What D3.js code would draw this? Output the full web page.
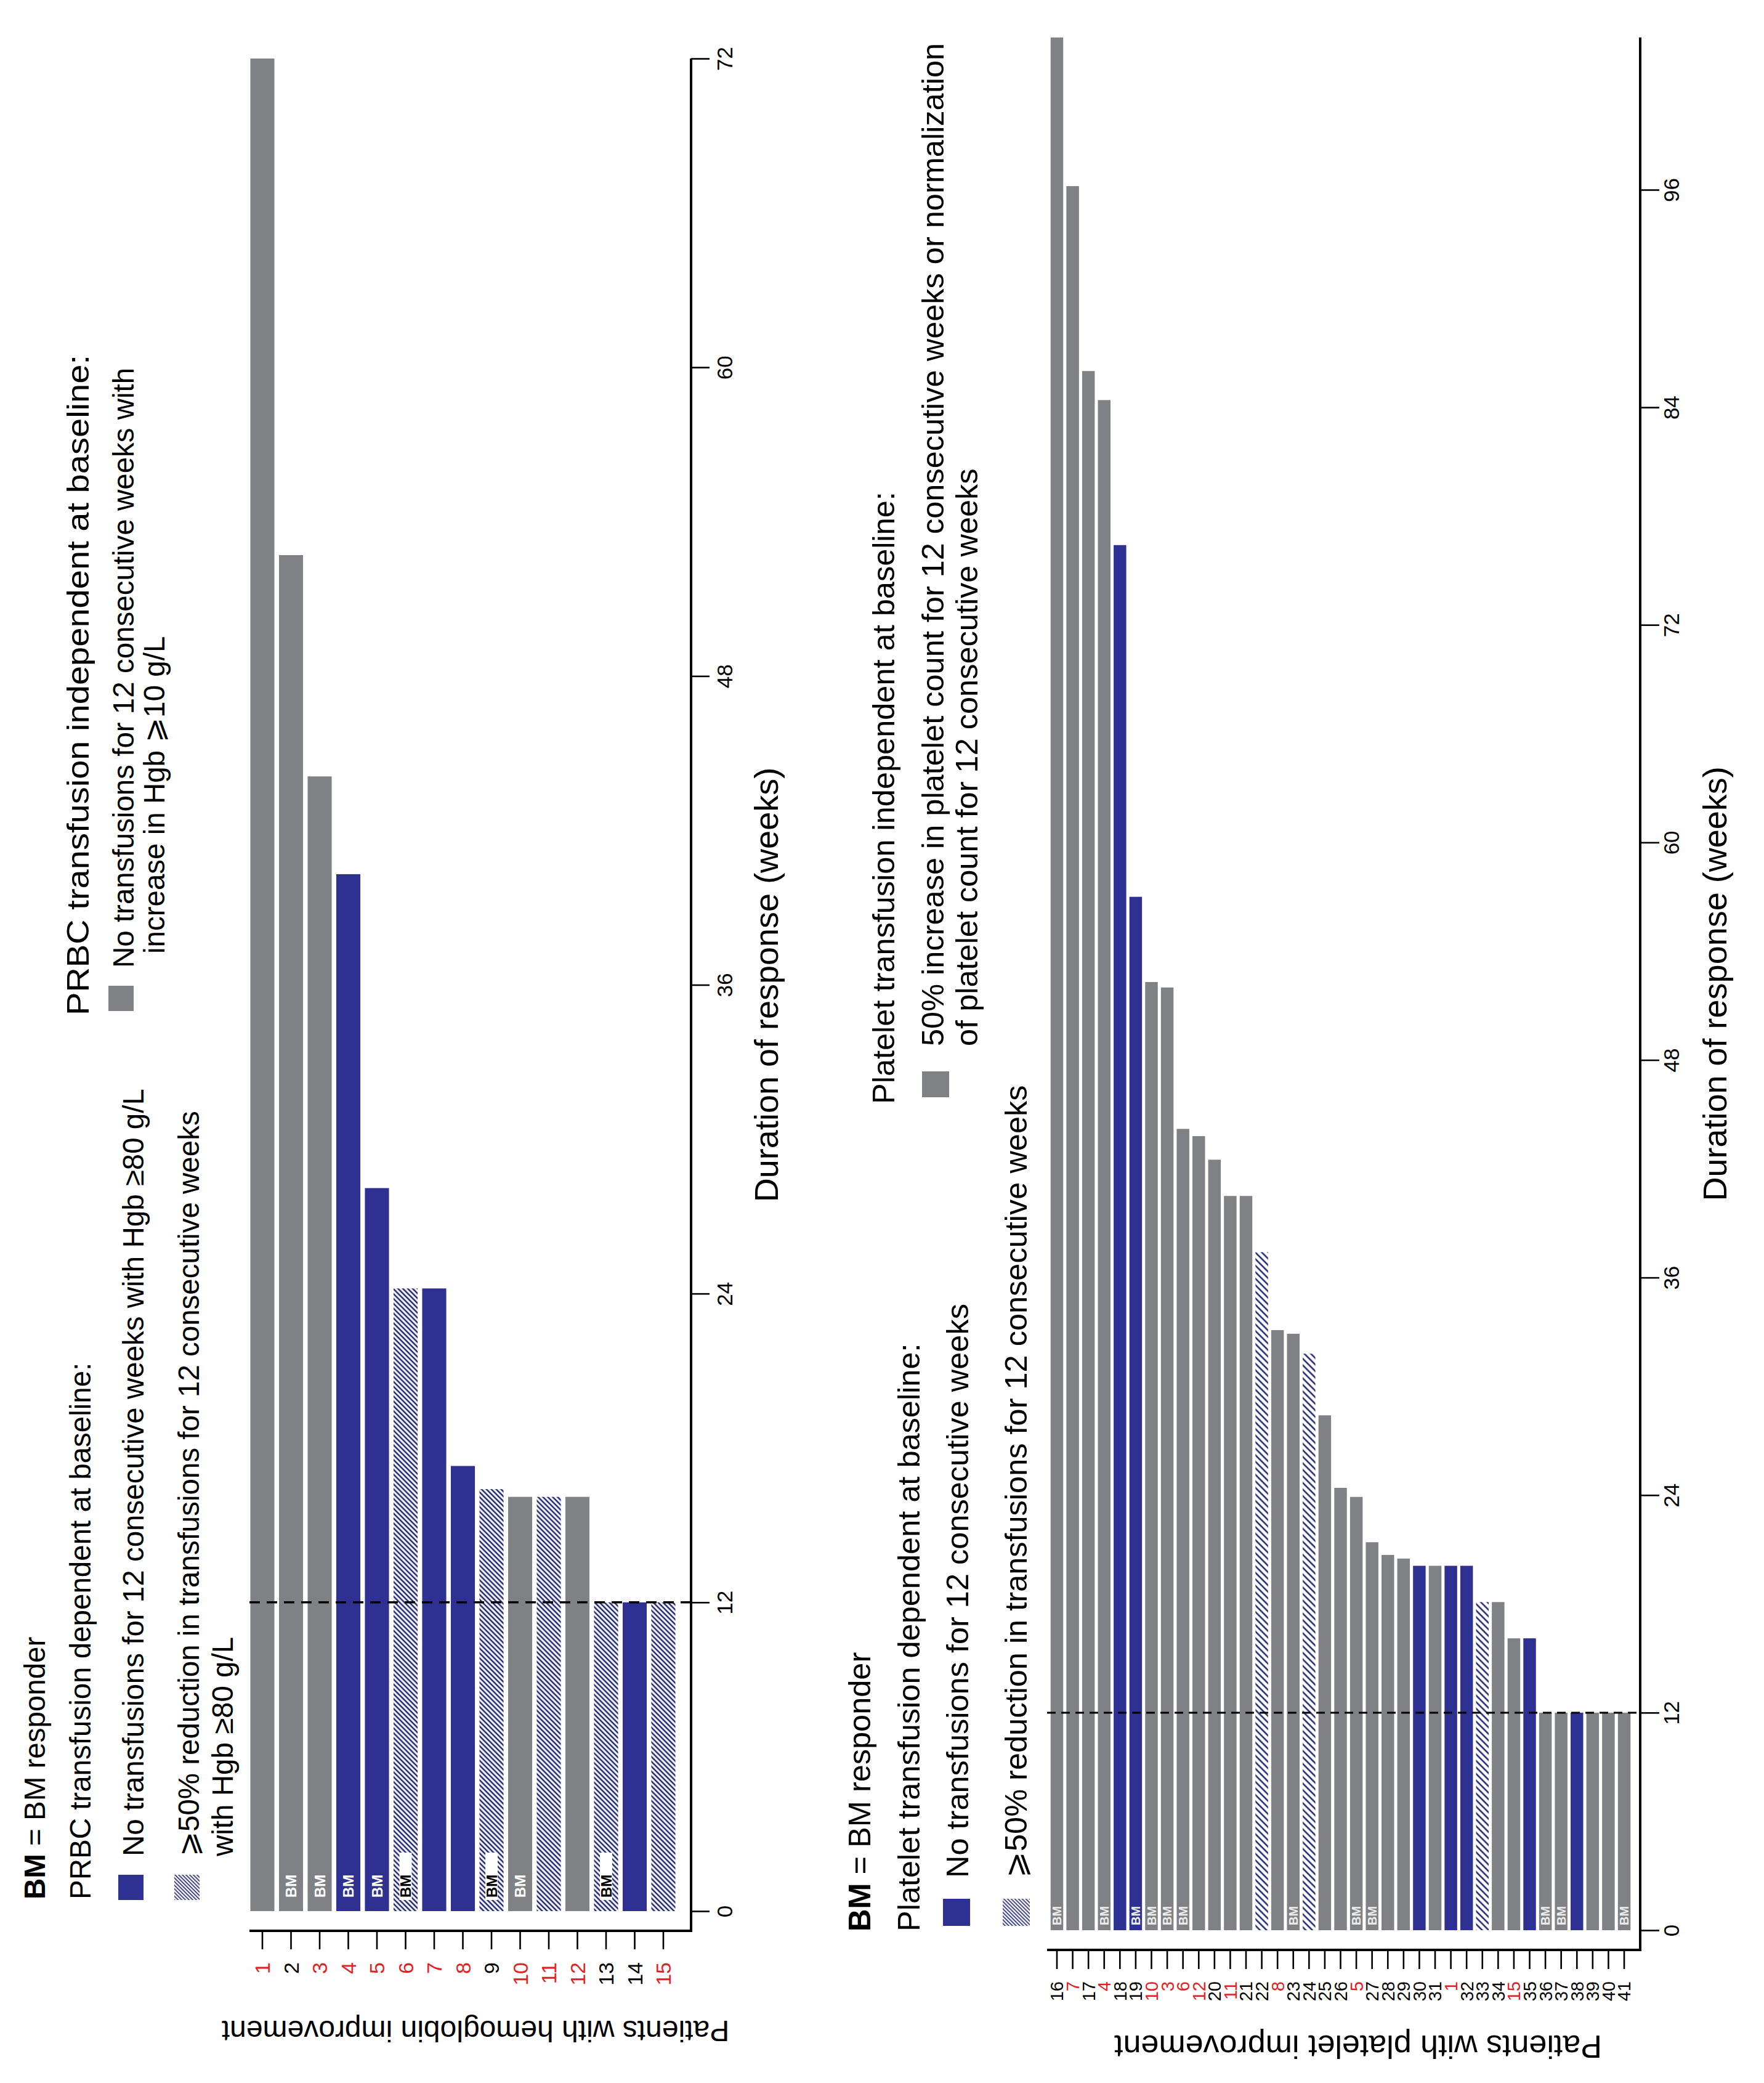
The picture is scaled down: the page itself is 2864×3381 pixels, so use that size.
<!DOCTYPE html>
<html>
<head>
<meta charset="utf-8">
<script src="https://cdn.jsdelivr.net/npm/d3@7"></script>
<style>
  body { margin: 0; background: #fff; }
  svg { display: block; }
  text { font-family: "Liberation Sans", Arial, Helvetica, sans-serif; }
</style>
</head>
<body>
<svg id="chart"></svg>
<script>
// ---- data: hemoglobin panel (top) ----
const hgbPatients = ["1", "2", "3", "4", "5", "6", "7", "8", "9", "10", "11", "12", "13", "14", "15"];
const hgbWeeks = [72, 52.7, 44.1, 40.3, 28.1, 24.2, 24.2, 17.3, 16.4, 16.1, 16.1, 16.1, 12, 12, 12];
// nt = no transfusions (blue), red = >=50% reduction (hatched), ind = transfusion independent (gray)
const hgbGroup = ["ind", "ind", "ind", "nt", "nt", "red", "nt", "nt", "red", "ind", "red", "ind", "red", "nt", "red"];
const hgbBM = ["2", "3", "4", "5", "6", "9", "10", "13"];
const hgbTicks = [0, 12, 24, 36, 48, 60, 72];

// ---- data: platelet panel (bottom) ----
const plPatients = ["16", "7", "17", "4", "18", "19", "10", "3", "6", "12", "20", "11", "21", "22", "8", "23", "24", "25", "26", "5",
  "27", "28", "29", "30", "31", "1", "32", "33", "34", "15", "35", "36", "37", "38", "39", "40", "41"];
const plWeeks = [104.4, 96.2, 86.0, 84.4, 76.4, 57.0, 52.3, 52.0, 44.2, 43.8, 42.5, 40.5, 40.5, 37.4, 33.1, 32.9, 31.8, 28.4, 24.4, 23.9,
  21.4, 20.7, 20.5, 20.1, 20.1, 20.1, 20.1, 18.1, 18.1, 16.1, 16.1, 12, 12, 12, 12, 12, 12];
const plGroup = ["ind", "ind", "ind", "ind", "nt", "nt", "ind", "ind", "ind", "ind", "ind", "ind", "ind", "red", "ind", "ind", "red", "ind", "ind", "ind",
  "ind", "ind", "ind", "nt", "ind", "nt", "nt", "red", "ind", "ind", "nt", "ind", "ind", "nt", "ind", "ind", "ind"];
const plBM = ["16", "4", "19", "10", "3", "6", "23", "5", "27", "36", "37", "41"];
const plTicks = [0, 12, 24, 36, 48, 60, 72, 84, 96];

// patients that responded in both panels get red labels
const bothPanels = ["1", "3", "4", "5", "6", "7", "8", "10", "11", "12", "15"];

const GRAY = "#808184", BLUE = "#2e3192", NAVY = "#23276f", RED = "#e31e24";
const W = 2864, H = 3381;

const svg = d3.select("#chart")
    .attr("width", W)
    .attr("height", H)
    .attr("viewBox", [0, 0, W, H]);

svg.append("rect").attr("width", W).attr("height", H).attr("fill", "#fff");

const defs = svg.append("defs");
function hatch(id, size, sw) {
    const p = defs.append("pattern")
        .attr("id", id)
        .attr("patternUnits", "userSpaceOnUse")
        .attr("width", size)
        .attr("height", size)
        .attr("patternTransform", "rotate(-45)");
    p.append("rect").attr("width", size).attr("height", size).attr("fill", "#fff");
    p.append("line")
        .attr("x1", size / 2).attr("x2", size / 2)
        .attr("y1", 0).attr("y2", size)
        .attr("stroke", NAVY)
        .attr("stroke-width", sw);
}
hatch("hatchTop", 5.6, 2.6);
hatch("hatchBot", 7.5, 2.6);
hatch("hatchKey", 4.2, 1.7);

// rotated (bottom-to-top) text helper
function vtext(x, y, str, size, len) {
    const t = svg.append("text")
        .attr("transform", `translate(${x},${y}) rotate(-90)`)
        .attr("font-size", size)
        .attr("fill", "#000")
        .text(str);
    if (len) t.attr("textLength", len).attr("lengthAdjust", "spacingAndGlyphs");
    return t;
}

function drawPanel(c) {
    const fills = { nt: BLUE, red: `url(#${c.hatchId})`, ind: GRAY };
    const data = c.patients.map((p, i) => ({ p, v: c.weeks[i], g: c.group[i], bm: c.bm.includes(p) }));

    const x = d3.scaleBand()
        .domain(c.patients)
        .range(c.xRange)
        .paddingInner(c.pad)
        .paddingOuter(c.pad / 2);

    const y = d3.scaleLinear()
        .domain([0, c.ticks[c.ticks.length - 1]])
        .range(c.yRange);

    const g = svg.append("g");

    g.append("g")
        .selectAll("rect")
        .data(data)
        .join("rect")
        .attr("x", d => x(d.p))
        .attr("y", d => y(d.v))
        .attr("width", x.bandwidth())
        .attr("height", d => y(0) - y(d.v))
        .attr("fill", d => fills[d.g]);

    // BM responder tags
    const bm = g.append("g").selectAll("g")
        .data(data.filter(d => d.bm))
        .join("g")
        .attr("transform", d => `translate(${x(d.p) + x.bandwidth() / 2},${y(0)})`);
    bm.filter(d => d.g === "red")
        .append("rect")
        .attr("x", -c.bmBox / 2)
        .attr("y", -c.bmBoxTop)
        .attr("width", c.bmBox)
        .attr("height", c.bmBoxTop - c.bmOff + 4)
        .attr("fill", "#fff");
    bm.append("text")
        .attr("transform", `translate(${c.bmSize * 0.36},${-c.bmOff}) rotate(-90)`)
        .attr("font-size", c.bmSize)
        .attr("font-weight", "bold")
        .attr("fill", d => d.g === "red" ? "#000" : c.bmColor)
        .text("BM");

    // 12-week reference line
    g.append("line")
        .attr("x1", c.frameLeft).attr("x2", c.axisX)
        .attr("y1", y(12)).attr("y2", y(12))
        .attr("stroke", "#000")
        .attr("stroke-width", c.dashW)
        .attr("stroke-dasharray", c.dash);

    // duration axis (right side)
    const yAxis = g.append("g")
        .attr("transform", `translate(${c.axisX},0)`)
        .call(d3.axisRight(y).tickValues(c.ticks).tickSize(c.tick).tickSizeOuter(0));
    yAxis.select(".domain").remove();
    yAxis.selectAll("line").attr("stroke-width", 2.6);
    yAxis.selectAll("text")
        .attr("x", 0).attr("dy", null)
        .attr("text-anchor", "middle")
        .attr("transform", `translate(${c.valLab},0) rotate(-90)`)
        .attr("font-size", c.valSize)
        .attr("font-family", null)
        .attr("fill", "#000");

    // patient axis (bottom)
    const xAxis = g.append("g")
        .attr("transform", `translate(0,${c.patAxisY})`)
        .call(d3.axisBottom(x).tickSize(c.tick).tickSizeOuter(0));
    xAxis.select(".domain").remove();
    xAxis.selectAll("line").attr("stroke-width", 2.6);
    xAxis.selectAll("text")
        .attr("x", 0).attr("y", 0).attr("dy", null)
        .attr("text-anchor", "end")
        .attr("transform", `translate(${c.patSize * 0.36},${c.tick + c.patGap}) rotate(-90)`)
        .attr("font-size", c.patSize)
        .attr("font-family", null)
        .attr("fill", d => bothPanels.includes(d) ? RED : "#000");

    // L-shaped frame
    g.append("path")
        .attr("d", `M${c.frameLeft},${c.patAxisY}H${c.axisX}V${y(c.axisTop)}`)
        .attr("fill", "none")
        .attr("stroke", "#000")
        .attr("stroke-width", 4);

    // axis titles
    g.append("text")
        .attr("transform", `translate(${c.axisX + c.durOff},${(y(0) + y(c.axisTop)) / 2}) rotate(-90)`)
        .attr("text-anchor", "middle")
        .attr("font-size", c.durSize)
        .text("Duration of response (weeks)");
    g.append("text")
        .attr("transform", `translate(${c.patTitleX},${c.patTitleY}) rotate(180)`)
        .attr("text-anchor", "middle")
        .attr("font-size", c.titleSize)
        .text(c.patTitle);
}

drawPanel({
    patients: hgbPatients, weeks: hgbWeeks, group: hgbGroup, bm: hgbBM, ticks: hgbTicks,
    hatchId: "hatchTop", xRange: [402.75, 1100.25], pad: 0.16, yRange: [3102, 95], axisTop: 72,
    axisX: 1122, frameLeft: 405, patAxisY: 3134, tick: 30, patGap: 21, patSize: 34,
    valLab: 67, valSize: 35, durOff: 141, durSize: 54, titleSize: 48,
    patTitle: "Patients with hemoglobin improvement", patTitleX: 772, patTitleY: 3280,
    bmSize: 24, bmOff: 22, bmBox: 20, bmBoxTop: 95, bmColor: "#fff",
    dash: "17,11", dashW: 3.5
});

drawPanel({
    patients: plPatients, weeks: plWeeks, group: plGroup, bm: plBM, ticks: plTicks,
    hatchId: "hatchBot", xRange: [1703.2, 2649.8], pad: 0.2, yRange: [3133, 308], axisTop: 104.4,
    axisX: 2663, frameLeft: 1700, patAxisY: 3165, tick: 31, patGap: 20, patSize: 29,
    valLab: 63, valSize: 35, durOff: 140, durSize: 54, titleSize: 52,
    patTitle: "Patients with platelet improvement", patTitleX: 2205, patTitleY: 3304,
    bmSize: 20, bmOff: 8, bmBox: 16, bmBoxTop: 70, bmColor: "#ececec",
    dash: "14,9", dashW: 3
});

// ---- legend: hemoglobin panel ----
function bmKey(x, y, size) {
    const t = vtext(x, y, "", size);
    t.append("tspan").attr("font-weight", "bold").text("BM");
    t.append("tspan").text(" = BM responder");
}
const topFont = 47.5, botFont = 50.5;
bmKey(73, 3083, topFont);
vtext(147, 3083, "PRBC transfusion dependent at baseline:", topFont);
svg.append("rect").attr("x", 192).attr("y", 3043).attr("width", 41).attr("height", 41).attr("fill", BLUE);
vtext(233, 3013, "No transfusions for 12 consecutive weeks with Hgb \u226580 g/L", topFont);
svg.append("rect").attr("x", 283).attr("y", 3043).attr("width", 41).attr("height", 41).attr("fill", "url(#hatchKey)");
vtext(323, 3013, "\u2A7E50% reduction in transfusions for 12 consecutive weeks", topFont);
vtext(378, 3013, "with Hgb \u226580 g/L", topFont);

vtext(144, 1648, "PRBC transfusion independent at baseline:", 50, 1072);
svg.append("rect").attr("x", 176).attr("y", 1600).attr("width", 41).attr("height", 41).attr("fill", GRAY);
vtext(217, 1571, "No transfusions for 12 consecutive weeks with", topFont);
vtext(267, 1548, "increase in Hgb \u2A7E10 g/L", topFont);

// ---- legend: platelet panel ----
bmKey(1413, 3135, botFont);
vtext(1493, 3135, "Platelet transfusion dependent at baseline:", botFont);
svg.append("rect").attr("x", 1531).attr("y", 3082).attr("width", 44).attr("height", 44).attr("fill", BLUE);
vtext(1572, 3048, "No transfusions for 12 consecutive weeks", botFont);
svg.append("rect").attr("x", 1628).attr("y", 3082).attr("width", 44).attr("height", 44).attr("fill", "url(#hatchKey)");
vtext(1667, 3048, "\u2A7E50% reduction in transfusions for 12 consecutive weeks", botFont);

vtext(1452, 1792, "Platelet transfusion independent at baseline:", botFont);
svg.append("rect").attr("x", 1497).attr("y", 1739).attr("width", 44).attr("height", 42).attr("fill", GRAY);
vtext(1532, 1698, "50% increase in platelet count for 12 consecutive weeks or normalization", botFont);
vtext(1587, 1698, "of platelet count for 12 consecutive weeks", botFont);
</script>
</body>
</html>
